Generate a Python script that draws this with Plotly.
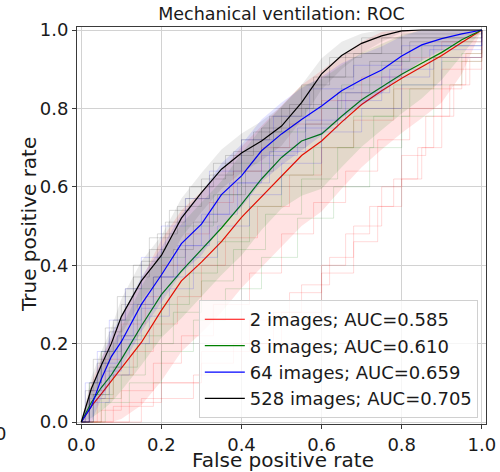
import plotly.graph_objects as go

# ---------------- data ----------------
fpr_grid = [0, 0.025, 0.05, 0.075, 0.1, 0.15, 0.2, 0.25, 0.3, 0.35, 0.4, 0.45,
            0.5, 0.55, 0.6, 0.65, 0.7, 0.75, 0.8, 0.85, 0.9, 0.95, 1.0]

series_names = ["2 images; AUC=0.585", "8 images; AUC=0.610",
                "64 images; AUC=0.659", "528 images; AUC=0.705"]

tpr_2 = [0, 0.04, 0.072, 0.104, 0.138, 0.203, 0.285, 0.36, 0.408, 0.46, 0.522, 0.575,
         0.628, 0.68, 0.717, 0.765, 0.81, 0.845, 0.877, 0.905, 0.935, 0.968, 1.0]
tpr_8 = [0, 0.05, 0.088, 0.12, 0.16, 0.245, 0.325, 0.385, 0.44, 0.495, 0.555, 0.62,
         0.675, 0.717, 0.735, 0.78, 0.822, 0.855, 0.887, 0.915, 0.943, 0.975, 1.0]
tpr_64 = [0, 0.04, 0.11, 0.167, 0.205, 0.30, 0.375, 0.455, 0.505, 0.58, 0.628, 0.692,
          0.735, 0.772, 0.806, 0.845, 0.873, 0.898, 0.934, 0.962, 0.978, 0.99, 1.0]
tpr_528 = [0, 0.085, 0.145, 0.20, 0.269, 0.36, 0.425, 0.52, 0.585, 0.645, 0.686, 0.717,
           0.755, 0.815, 0.888, 0.935, 0.966, 0.985, 0.998, 1.0, 1.0, 1.0, 1.0]

std_2 = [0, 0.06, 0.09, 0.11, 0.13, 0.16, 0.18, 0.18, 0.18, 0.18, 0.18, 0.18,
         0.18, 0.18, 0.18, 0.17, 0.16, 0.15, 0.14, 0.13, 0.12, 0.08, 0]
std_8 = [0, 0.04, 0.06, 0.07, 0.08, 0.10, 0.11, 0.12, 0.12, 0.12, 0.13, 0.13,
         0.13, 0.14, 0.14, 0.13, 0.12, 0.11, 0.10, 0.09, 0.07, 0.04, 0]
std_64 = [0, 0.04, 0.05, 0.06, 0.065, 0.07, 0.07, 0.075, 0.08, 0.08, 0.08, 0.08,
          0.08, 0.08, 0.075, 0.07, 0.065, 0.06, 0.05, 0.04, 0.03, 0.015, 0]
std_528 = [0, 0.03, 0.035, 0.04, 0.045, 0.05, 0.05, 0.05, 0.05, 0.05, 0.05, 0.05,
           0.05, 0.045, 0.04, 0.035, 0.025, 0.015, 0.005, 0, 0, 0, 0]

# individual (faint) runs: staircase vertices
runs_2 = [
    ([0, 0.12, 0.2, 0.3, 0.38, 0.48, 0.55, 0.62, 0.68, 0.75, 0.8, 0.86, 0.9, 0.95, 1.0],
     [0, 0.05, 0.1, 0.15, 0.2, 0.28, 0.35, 0.42, 0.5, 0.6, 0.68, 0.78, 0.85, 0.92, 1.0]),
    ([0, 0.02, 0.06, 0.1, 0.16, 0.2, 0.26, 0.32, 0.38, 0.45, 0.52, 0.6, 0.7, 0.8, 0.9, 1.0],
     [0, 0.08, 0.16, 0.25, 0.32, 0.4, 0.48, 0.56, 0.64, 0.7, 0.76, 0.82, 0.88, 0.93, 0.97, 1.0]),
    ([0, 0.05, 0.1, 0.18, 0.25, 0.33, 0.42, 0.5, 0.58, 0.66, 0.74, 0.82, 0.9, 1.0],
     [0, 0.03, 0.08, 0.15, 0.22, 0.3, 0.38, 0.48, 0.56, 0.64, 0.72, 0.8, 0.9, 1.0]),
    ([0, 0.15, 0.28, 0.4, 0.5, 0.6, 0.68, 0.74, 0.8, 0.85, 0.9, 0.93, 0.96, 1.0],
     [0, 0.06, 0.12, 0.2, 0.28, 0.38, 0.46, 0.55, 0.62, 0.7, 0.78, 0.86, 0.94, 1.0]),
    ([0, 0.08, 0.18, 0.3, 0.42, 0.52, 0.6, 0.66, 0.72, 0.78, 0.84, 0.88, 0.92, 0.97, 1.0],
     [0, 0.04, 0.1, 0.18, 0.26, 0.33, 0.4, 0.48, 0.55, 0.62, 0.7, 0.78, 0.86, 0.93, 1.0]),
    ([0, 0.04, 0.08, 0.13, 0.18, 0.24, 0.3, 0.36, 0.44, 0.52, 0.6, 0.68, 0.78, 0.88, 1.0],
     [0, 0.06, 0.12, 0.18, 0.25, 0.32, 0.4, 0.47, 0.55, 0.63, 0.7, 0.77, 0.85, 0.93, 1.0]),
]
runs_8 = [
    ([0, 0.03, 0.08, 0.14, 0.2, 0.27, 0.34, 0.42, 0.5, 0.58, 0.68, 0.78, 0.88, 1.0],
     [0, 0.07, 0.14, 0.22, 0.3, 0.38, 0.46, 0.55, 0.63, 0.7, 0.78, 0.86, 0.93, 1.0]),
    ([0, 0.06, 0.12, 0.2, 0.28, 0.36, 0.45, 0.54, 0.63, 0.72, 0.8, 0.88, 0.95, 1.0],
     [0, 0.05, 0.1, 0.18, 0.26, 0.34, 0.42, 0.52, 0.6, 0.7, 0.78, 0.86, 0.94, 1.0]),
    ([0, 0.02, 0.05, 0.1, 0.15, 0.2, 0.26, 0.33, 0.4, 0.48, 0.56, 0.65, 0.75, 0.85, 1.0],
     [0, 0.1, 0.18, 0.26, 0.34, 0.42, 0.5, 0.58, 0.66, 0.74, 0.8, 0.86, 0.92, 0.96, 1.0]),
    ([0, 0.05, 0.1, 0.16, 0.23, 0.3, 0.38, 0.46, 0.55, 0.64, 0.73, 0.82, 0.9, 1.0],
     [0, 0.06, 0.12, 0.2, 0.28, 0.36, 0.44, 0.53, 0.62, 0.7, 0.78, 0.85, 0.92, 1.0]),
]
runs_64 = [
    ([0, 0.02, 0.05, 0.09, 0.13, 0.18, 0.24, 0.3, 0.37, 0.45, 0.54, 0.64, 0.75, 0.87, 1.0],
     [0, 0.08, 0.15, 0.22, 0.3, 0.37, 0.45, 0.53, 0.61, 0.68, 0.75, 0.82, 0.88, 0.95, 1.0]),
    ([0, 0.03, 0.07, 0.12, 0.17, 0.22, 0.28, 0.34, 0.42, 0.5, 0.6, 0.7, 0.8, 0.9, 1.0],
     [0, 0.05, 0.12, 0.2, 0.27, 0.34, 0.42, 0.5, 0.58, 0.66, 0.74, 0.8, 0.86, 0.93, 1.0]),
    ([0, 0.01, 0.04, 0.07, 0.11, 0.15, 0.2, 0.26, 0.32, 0.4, 0.48, 0.57, 0.68, 0.8, 1.0],
     [0, 0.1, 0.18, 0.26, 0.34, 0.42, 0.5, 0.57, 0.64, 0.72, 0.78, 0.85, 0.91, 0.96, 1.0]),
    ([0, 0.02, 0.06, 0.1, 0.15, 0.2, 0.26, 0.32, 0.39, 0.47, 0.56, 0.66, 0.77, 0.88, 1.0],
     [0, 0.06, 0.13, 0.21, 0.29, 0.37, 0.45, 0.53, 0.61, 0.69, 0.77, 0.84, 0.9, 0.96, 1.0]),
]
runs_528 = [
    ([0, 0.02, 0.05, 0.08, 0.11, 0.15, 0.19, 0.24, 0.3, 0.36, 0.43, 0.5, 0.58, 0.66, 0.75, 1.0],
     [0, 0.1, 0.18, 0.26, 0.34, 0.41, 0.48, 0.55, 0.62, 0.68, 0.74, 0.8, 0.88, 0.94, 0.98, 1.0]),
    ([0, 0.01, 0.03, 0.06, 0.09, 0.13, 0.17, 0.22, 0.27, 0.33, 0.4, 0.47, 0.55, 0.62, 0.7, 1.0],
     [0, 0.08, 0.16, 0.24, 0.32, 0.4, 0.47, 0.54, 0.6, 0.66, 0.72, 0.78, 0.86, 0.93, 0.98, 1.0]),
    ([0, 0.03, 0.07, 0.1, 0.14, 0.18, 0.23, 0.28, 0.34, 0.41, 0.48, 0.56, 0.64, 0.72, 0.82, 1.0],
     [0, 0.07, 0.14, 0.22, 0.3, 0.37, 0.44, 0.51, 0.58, 0.64, 0.7, 0.76, 0.84, 0.92, 0.97, 1.0]),
    ([0, 0.02, 0.04, 0.07, 0.1, 0.13, 0.17, 0.21, 0.26, 0.32, 0.38, 0.45, 0.52, 0.6, 0.68, 0.8, 1.0],
     [0, 0.07, 0.15, 0.23, 0.3, 0.37, 0.44, 0.51, 0.57, 0.63, 0.69, 0.75, 0.81, 0.88, 0.94, 0.99, 1.0]),
]

x_ticks = [0.0, 0.2, 0.4, 0.6, 0.8, 1.0]
y_ticks = [0.0, 0.2, 0.4, 0.6, 0.8, 1.0]

# ---------------- figure ----------------
FONT = "DejaVu Sans, Arial, sans-serif"
TXT = "#1a1a1a"
colors = [(255, 0, 0), (0, 128, 0), (0, 0, 255), (0, 0, 0)]
means = [tpr_2, tpr_8, tpr_64, tpr_528]
stds = [std_2, std_8, std_64, std_528]
runs = [runs_2, runs_8, runs_64, runs_528]

fig = go.Figure()
for i, (name, c, m, s, rr) in enumerate(zip(series_names, colors, means, stds, runs)):
    rgb = "%d,%d,%d" % c
    for rx, ry in rr:
        fig.add_trace(go.Scatter(x=rx, y=ry, mode="lines", line_shape="hv",
                                 line=dict(color="rgba(%s,0.15)" % rgb, width=1),
                                 showlegend=False, hoverinfo="skip"))
    upper = [min(a + b, 1.0) for a, b in zip(m, s)]
    lower = [max(a - b, 0.0) for a, b in zip(m, s)]
    fig.add_trace(go.Scatter(x=fpr_grid + fpr_grid[::-1], y=upper + lower[::-1],
                             fill="toself", fillcolor="rgba(%s,%s)" % (rgb, "0.08" if i == 3 else "0.11"),
                             line=dict(width=0), mode="lines",
                             showlegend=False, hoverinfo="skip"))
    fig.add_trace(go.Scatter(x=fpr_grid, y=m, mode="lines", name=name,
                             legendgroup="g%d" % i,
                             line=dict(color="rgb(%s)" % rgb, width=1.2)))

axis_common = dict(showgrid=True, gridcolor="#d2d2d2", gridwidth=1,
                   showline=True, linecolor="#3a3a3a", linewidth=1, mirror=True,
                   ticks="outside", ticklen=4, tickcolor="#3a3a3a",
                   tickfont=dict(size=18, color=TXT, family=FONT),
                   zeroline=False, automargin=False)

fig.update_layout(
    width=500, height=472,
    margin=dict(l=77, r=14, t=27, b=48),
    paper_bgcolor="white", plot_bgcolor="white",
    font=dict(family=FONT, color=TXT),
    title=dict(text="Mechanical ventilation: ROC", x=0.5, xref="paper",
               y=1 - 13.5 / 472, yref="container", yanchor="middle",
               font=dict(size=17.5, family=FONT, color=TXT)),
    xaxis=dict(range=[-0.0107, 1.0105], tickvals=x_ticks,
               ticktext=["%.1f" % v for v in x_ticks], **axis_common),
    yaxis=dict(range=[-0.005, 1.0077], tickvals=y_ticks,
               ticktext=["%.1f" % v for v in y_ticks], **axis_common),
    legend=dict(x=0.98, xanchor="right", y=0.015, yanchor="bottom",
                bgcolor="rgba(255,255,255,0.8)", bordercolor="#d0d0d0", borderwidth=1,
                font=dict(size=18, family=FONT, color=TXT),
                tracegroupgap=0, itemwidth=40),
)

# axis titles placed to match the reference
fig.add_annotation(text="False positive rate", xref="paper", yref="paper",
                   x=(283 - 77) / 409, y=(424 - 460) / 397, xanchor="center", yanchor="middle",
                   showarrow=False, font=dict(size=20, family=FONT, color=TXT))
fig.add_annotation(text="True positive rate", xref="paper", yref="paper",
                   x=(29 - 77) / 409, y=(424 - 225) / 397, xanchor="center", yanchor="middle",
                   textangle=-90, showarrow=False, font=dict(size=20, family=FONT, color=TXT))
# clipped label fragment at the left edge of the reference
fig.add_annotation(text="0", xref="paper", yref="paper", x=-0.187, y=-0.025,
                   xanchor="center", yanchor="middle", showarrow=False,
                   font=dict(size=18, family=FONT, color=TXT))

fig.write_html("out.html", config={"displayModeBar": False},
               post_script="document.body.style.margin='0px';document.body.style.overflow='hidden';")
